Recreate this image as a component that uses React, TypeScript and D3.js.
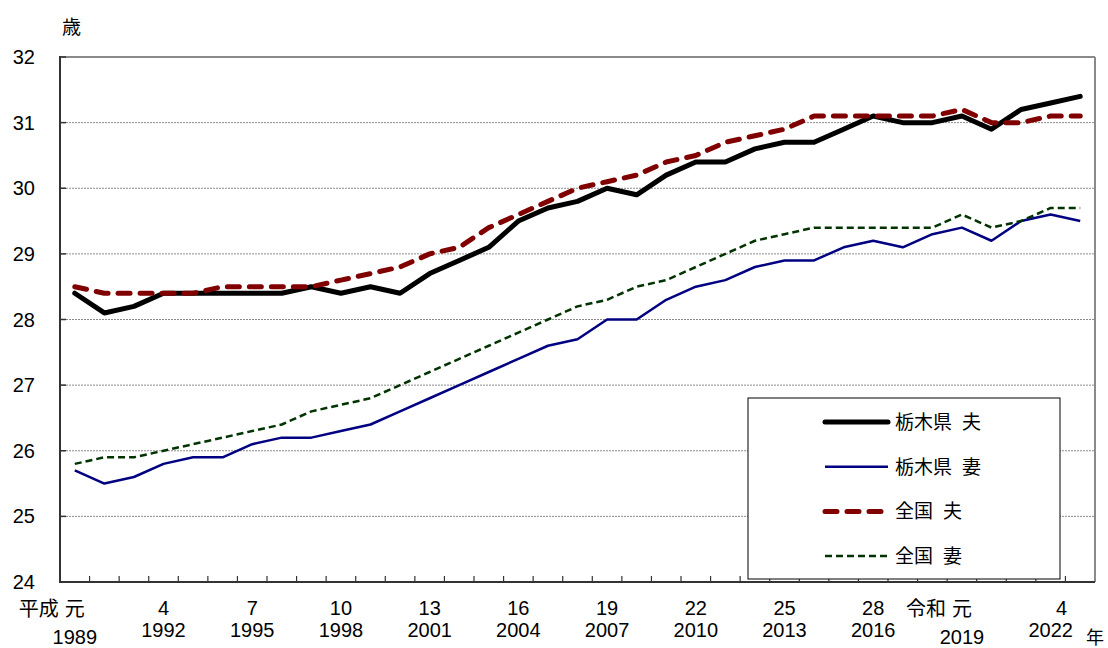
import React from "react";
import * as d3 from "d3";

const width = 1108;
const height = 648;
const margin = { top: 57, right: 13, bottom: 66, left: 60 };

const years = d3.range(1989, 2024);

// 栃木県・全国の平均初婚年齢
const tochigiHusband = [28.4, 28.1, 28.2, 28.4, 28.4, 28.4, 28.4, 28.4, 28.5, 28.4, 28.5, 28.4, 28.7, 28.9, 29.1, 29.5, 29.7, 29.8, 30.0, 29.9, 30.2, 30.4, 30.4, 30.6, 30.7, 30.7, 30.9, 31.1, 31.0, 31.0, 31.1, 30.9, 31.2, 31.3, 31.4];
const tochigiWife = [25.7, 25.5, 25.6, 25.8, 25.9, 25.9, 26.1, 26.2, 26.2, 26.3, 26.4, 26.6, 26.8, 27.0, 27.2, 27.4, 27.6, 27.7, 28.0, 28.0, 28.3, 28.5, 28.6, 28.8, 28.9, 28.9, 29.1, 29.2, 29.1, 29.3, 29.4, 29.2, 29.5, 29.6, 29.5];
const nationalHusband = [28.5, 28.4, 28.4, 28.4, 28.4, 28.5, 28.5, 28.5, 28.5, 28.6, 28.7, 28.8, 29.0, 29.1, 29.4, 29.6, 29.8, 30.0, 30.1, 30.2, 30.4, 30.5, 30.7, 30.8, 30.9, 31.1, 31.1, 31.1, 31.1, 31.1, 31.2, 31.0, 31.0, 31.1, 31.1];
const nationalWife = [25.8, 25.9, 25.9, 26.0, 26.1, 26.2, 26.3, 26.4, 26.6, 26.7, 26.8, 27.0, 27.2, 27.4, 27.6, 27.8, 28.0, 28.2, 28.3, 28.5, 28.6, 28.8, 29.0, 29.2, 29.3, 29.4, 29.4, 29.4, 29.4, 29.4, 29.6, 29.4, 29.5, 29.7, 29.7];

const yTicks = [24, 25, 26, 27, 28, 29, 30, 31, 32];

// 和暦 / 西暦 ラベル
const labelYears = [1989, 1992, 1995, 1998, 2001, 2004, 2007, 2010, 2013, 2016, 2019, 2022];
const eraLabels = ["平成元", "4", "7", "10", "13", "16", "19", "22", "25", "28", "令和元", "4"];

const seriesNames = ["栃木県 夫", "栃木県 妻", "全国 夫", "全国 妻"];
const seriesValues = [tochigiHusband, tochigiWife, nationalHusband, nationalWife];
const seriesStyles = [
  { color: "#000000", width: 5, dash: null, cap: "round" },
  { color: "#000080", width: 2.5, dash: null, cap: "butt" },
  { color: "#800000", width: 5, dash: "12 10", cap: "round" },
  { color: "#003300", width: 2.5, dash: "7 4", cap: "butt" },
];

const numFont = "'Liberation Sans', Arial, sans-serif";
const jpFont = "'Noto Sans CJK JP', sans-serif";

export default function App() {
  const x = d3
    .scaleBand<number>()
    .domain(years)
    .range([margin.left, width - margin.right]);
  const y = d3
    .scaleLinear()
    .domain([24, 32])
    .range([height - margin.bottom, margin.top]);
  const cx = (yr: number) => (x(yr) as number) + x.bandwidth() / 2;

  const line = d3
    .line<number>()
    .x((_, i) => cx(years[i]))
    .y((d) => y(d));

  const left = margin.left;
  const right = width - margin.right;
  const top = margin.top;
  const bottom = height - margin.bottom;

  const legendX = 748;
  const legendY = 398;
  const legendW = 312;
  const legendH = bottom - legendY - 3;

  return (
    <div style={{ position: "absolute", left: 0, top: 0 }}>
      <svg width={width} height={height} style={{ display: "block", background: "#fff" }}>
        {/* gridlines */}
        {yTicks
          .filter((t) => t > 24 && t < 32)
          .map((t) => (
            <line
              key={"g" + t}
              x1={left}
              x2={right}
              y1={y(t)}
              y2={y(t)}
              stroke="#8c8c8c"
              strokeWidth={1}
              strokeDasharray="2 1"
            />
          ))}
        {/* frame */}
        <line x1={left} x2={right} y1={top} y2={top} stroke="#8a8a8a" strokeWidth={2} />
        <line x1={right} x2={right} y1={top} y2={bottom} stroke="#8a8a8a" strokeWidth={2} />

        {/* series */}
        {seriesValues.map((vals, i) => {
          const s = seriesStyles[i];
          return (
            <path
              key={"s" + i}
              d={line(vals) as string}
              fill="none"
              stroke={s.color}
              strokeWidth={s.width}
              strokeDasharray={s.dash ?? undefined}
              strokeLinecap={s.cap as any}
              strokeLinejoin="round"
            />
          );
        })}

        {/* axes */}
        <line x1={left} x2={left} y1={top - 1} y2={bottom} stroke="#333" strokeWidth={2} />
        <line x1={left - 1} x2={right} y1={bottom} y2={bottom} stroke="#333" strokeWidth={2} />
        {yTicks.map((t) => (
          <g key={"yt" + t}>
            <line x1={left} x2={left + 6} y1={y(t)} y2={y(t)} stroke="#333" strokeWidth={1.5} />
            <text
              x={35}
              y={y(t)}
              dy="0.35em"
              textAnchor="end"
              fontFamily={numFont}
              fontSize={20}
              fill="#000"
            >
              {t}
            </text>
          </g>
        ))}
        {years.slice(1).map((yr) => (
          <line
            key={"xt" + yr}
            x1={x(yr)}
            x2={x(yr)}
            y1={bottom}
            y2={bottom - 6}
            stroke="#333"
            strokeWidth={1.2}
          />
        ))}

        {/* x labels */}
        {labelYears.map((yr, i) => {
          const c = cx(yr);
          const era = eraLabels[i];
          const isGan = era.endsWith("元");
          const last = i === labelYears.length - 1;
          return (
            <g key={"xl" + yr}>
              {isGan ? (
                <>
                  <text x={c - 16} y={616} textAnchor="end" fontFamily={jpFont} fontSize={20} fill="#000">
                    {era.slice(0, -1)}
                  </text>
                  <text x={c} y={616} textAnchor="middle" fontFamily={jpFont} fontSize={20} fill="#000">
                    元
                  </text>
                </>
              ) : (
                <text
                  x={c + (last ? 11 : 0)}
                  y={615}
                  textAnchor="middle"
                  fontFamily={numFont}
                  fontSize={20}
                  fill="#000"
                >
                  {era}
                </text>
              )}
              <text
                x={c}
                y={isGan ? 644 : 637}
                textAnchor="middle"
                fontFamily={numFont}
                fontSize={20}
                fill="#000"
              >
                {yr}
              </text>
            </g>
          );
        })}
        <text x={1086} y={644} fontFamily={jpFont} fontSize={18} fill="#000">
          年
        </text>
        <text x={62} y={34} fontFamily={jpFont} fontSize={19} fill="#000">
          歳
        </text>

        {/* legend */}
        <rect x={legendX} y={legendY} width={legendW} height={legendH} fill="#fff" stroke="#000" strokeWidth={1} />
        {seriesNames.map((name, i) => {
          const s = seriesStyles[i];
          const ly = 422 + i * 44.7;
          const [area, who] = name.split(" ");
          return (
            <g key={"lg" + i}>
              <line
                x1={825}
                x2={888}
                y1={ly}
                y2={ly}
                stroke={s.color}
                strokeWidth={s.width}
                strokeDasharray={s.dash ?? undefined}
                strokeLinecap={s.cap as any}
              />
              <text x={895} y={ly} dy="0.36em" fontFamily={jpFont} fontSize={19} fill="#000">
                {area}
                <tspan dx={10}>{who}</tspan>
              </text>
            </g>
          );
        })}
      </svg>
    </div>
  );
}
